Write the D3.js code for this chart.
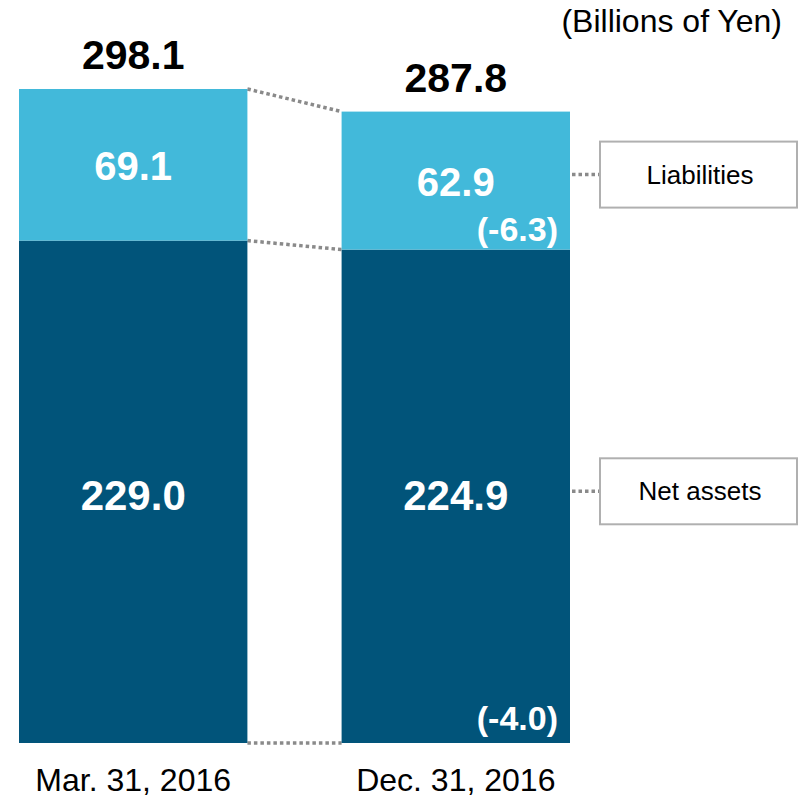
<!DOCTYPE html>
<meta charset="utf-8">
<html>
<script src="https://d3js.org/d3.v7.min.js"></script>
<style>
  body { margin: 0; background: #fff; }
  svg text { font-family: "Liberation Sans", Arial, sans-serif; }
</style>
<div id="chart"></div>
<script>

// data
var dates = ["Mar. 31, 2016", "Dec. 31, 2016"];
var netAssets = [229.0, 224.9];
var liabilities = [69.1, 62.9];
var totals = [298.1, 287.8];
var changeLiab = [null, "(-6.3)"];
var changeNet = [null, "(-4.0)"];
var seriesNames = ["Liabilities", "Net assets"];

var width = 800,
    height = 797;

var svg = d3.select("#chart")
  .append("svg")
    .attr("width", width)
    .attr("height", height);

var x = d3.scaleBand()
  .domain(dates)
  .range([19, 570])
  .paddingInner(0.292)
  .paddingOuter(0);

var y = d3.scaleLinear()
  .domain([0, 298.1])
  .range([743, 89]);

var lightBlue = "#42B9DA",
    darkBlue = "#01547A";

// dotted connectors between bars
var connectors = [
  function(i) { return y(totals[i]); },
  function(i) { return y(netAssets[i]); },
  function(i) { return y(0); }
];
connectors.forEach(function(f) {
  svg.append("line")
    .attr("x1", x(dates[0]) + x.bandwidth())
    .attr("x2", x(dates[1]))
    .attr("y1", f(0))
    .attr("y2", f(1))
    .attr("stroke", "#8a8a8a")
    .attr("stroke-width", 3.5)
    .attr("stroke-dasharray", "3.5 3");
});

// net assets bars
svg.selectAll("rect.net")
  .data(dates)
  .enter().append("rect")
    .attr("class", "net")
    .attr("x", function(d) { return x(d); })
    .attr("width", x.bandwidth())
    .attr("y", function(d, i) { return y(netAssets[i]); })
    .attr("height", function(d, i) { return y(0) - y(netAssets[i]); })
    .attr("fill", darkBlue);

// liabilities bars
svg.selectAll("rect.liab")
  .data(dates)
  .enter().append("rect")
    .attr("class", "liab")
    .attr("x", function(d) { return x(d); })
    .attr("width", x.bandwidth())
    .attr("y", function(d, i) { return y(totals[i]); })
    .attr("height", function(d, i) { return y(netAssets[i]) - y(totals[i]); })
    .attr("fill", lightBlue);

// totals on top
svg.selectAll("text.total")
  .data(dates)
  .enter().append("text")
    .attr("class", "total")
    .attr("x", function(d) { return x(d) + x.bandwidth() / 2; })
    .attr("y", function(d, i) { return y(totals[i]) - 20; })
    .attr("text-anchor", "middle")
    .attr("font-size", "41px")
    .attr("font-weight", "bold")
    .attr("fill", "#000")
    .text(function(d, i) { return totals[i].toFixed(1); });

// values inside segments
svg.selectAll("text.liabval")
  .data(dates)
  .enter().append("text")
    .attr("class", "liabval")
    .attr("x", function(d) { return x(d) + x.bandwidth() / 2; })
    .attr("y", function(d, i) { return (y(totals[i]) + y(netAssets[i])) / 2 + 15; })
    .attr("text-anchor", "middle")
    .attr("font-size", "40px")
    .attr("font-weight", "bold")
    .attr("fill", "#fff")
    .text(function(d, i) { return liabilities[i].toFixed(1); });

svg.selectAll("text.netval")
  .data(dates)
  .enter().append("text")
    .attr("class", "netval")
    .attr("x", function(d) { return x(d) + x.bandwidth() / 2; })
    .attr("y", function(d, i) { return y(0) - 233; })
    .attr("text-anchor", "middle")
    .attr("font-size", "42px")
    .attr("font-weight", "bold")
    .attr("fill", "#fff")
    .text(function(d, i) { return netAssets[i].toFixed(1); });

// change labels
svg.selectAll("text.chl")
  .data(dates)
  .enter().filter(function(d, i) { return changeLiab[i]; })
  .append("text")
    .attr("x", function(d) { return x(d) + x.bandwidth() - 12; })
    .attr("y", function(d) { var i = dates.indexOf(d); return y(netAssets[i]) - 9; })
    .attr("text-anchor", "end")
    .attr("font-size", "34px")
    .attr("font-weight", "bold")
    .attr("fill", "#fff")
    .text(function(d) { return changeLiab[dates.indexOf(d)]; });

svg.selectAll("text.chn")
  .data(dates)
  .enter().filter(function(d, i) { return changeNet[i]; })
  .append("text")
    .attr("x", function(d) { return x(d) + x.bandwidth() - 12; })
    .attr("y", y(0) - 13)
    .attr("text-anchor", "end")
    .attr("font-size", "34px")
    .attr("font-weight", "bold")
    .attr("fill", "#fff")
    .text(function(d) { return changeNet[dates.indexOf(d)]; });

// x axis labels
svg.selectAll("text.date")
  .data(dates)
  .enter().append("text")
    .attr("x", function(d) { return x(d) + x.bandwidth() / 2; })
    .attr("y", 791)
    .attr("text-anchor", "middle")
    .attr("font-size", "32px")
    .attr("fill", "#000")
    .text(function(d) { return d; });

// unit
svg.append("text")
  .attr("x", 782)
  .attr("y", 32)
  .attr("text-anchor", "end")
  .attr("font-size", "32px")
  .attr("fill", "#000")
  .text("(Billions of Yen)");

// legend boxes, right of the last bar
var last = dates.length - 1;
var legendY = [
  (y(totals[last]) + y(netAssets[last])) / 2 - 6,
  (y(netAssets[last]) + y(0)) / 2 - 5
];
var barRight = x(dates[last]) + x.bandwidth();

var legend = svg.selectAll("g.legend")
  .data(seriesNames)
  .enter().append("g")
    .attr("class", "legend")
    .attr("transform", function(d, i) { return "translate(0," + legendY[i] + ")"; });

legend.append("line")
  .attr("x1", barRight + 2)
  .attr("x2", 599)
  .attr("y1", 0)
  .attr("y2", 0)
  .attr("stroke", "#8a8a8a")
  .attr("stroke-width", 3.5)
  .attr("stroke-dasharray", "3.5 3");

legend.append("rect")
  .attr("x", 600)
  .attr("y", -33)
  .attr("width", 197)
  .attr("height", 66)
  .attr("fill", "#fff")
  .attr("stroke", "#b0b0b0")
  .attr("stroke-width", 2);

legend.append("text")
  .attr("x", 700)
  .attr("y", 9)
  .attr("text-anchor", "middle")
  .attr("font-size", "26px")
  .attr("fill", "#000")
  .text(function(d) { return d; });

</script>
</html>
